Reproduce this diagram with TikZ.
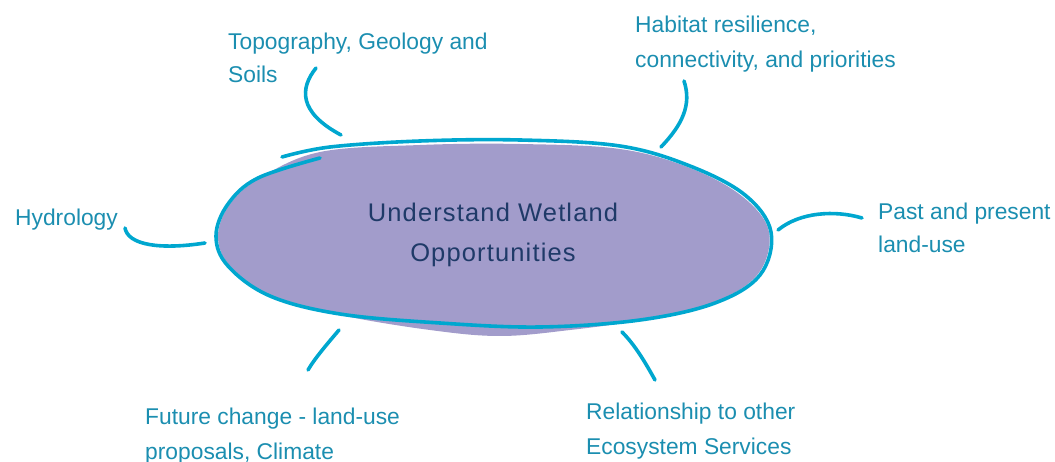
\documentclass[tikz,border=0pt]{standalone}
\usepackage{fontspec}
\setmainfont{Liberation Sans}
\newfontfamily\ctrfont[LetterSpace=4.5]{Liberation Sans}
\definecolor{linecol}{HTML}{00A7CF}
\definecolor{labcol}{HTML}{1B8EB0}
\definecolor{ctrcol}{HTML}{1F3A68}
\definecolor{blobcol}{HTML}{A29CCB}
\tikzset{
  lab/.style={anchor=base west, inner sep=0pt, text=labcol, font=\fontsize{22.8}{27}\selectfont},
  ctr/.style={anchor=base, inner sep=0pt, text=ctrcol, font=\ctrfont\fontsize{25.5}{30}\selectfont},
  conn/.style={draw=linecol, line width=3.6pt, line cap=round, line join=round},
}
\begin{document}
\begin{tikzpicture}[x=1pt,y=-1pt]
\useasboundingbox (0,0) rectangle (1055,462);
% blob fill
\fill[blobcol] plot[smooth cycle, tension=0.6] coordinates {
 (320,152) (420,145) (520,144) (620,149) (690,168) (743,197) (769,232)
 (758,274) (714,302) (640,320) (570,330) (500,336) (430,330) (340,315) (272,296) (230,266)
 (218,236) (230,204) (260,178)};
% blob outline
\draw[conn] plot[smooth, tension=0.6] coordinates {
 (282,157) (330,147) (420,141) (520,140) (620,146) (690,166) (745,195) (771,232)
 (760,275) (715,303) (640,320) (540,327) (440,323) (340,314) (270,296) (228,266)
 (216,236) (228,204) (258,178) (320,158)};
% centre text
\node[ctr] (c1) at (493,222) {Understand Wetland};
\node[ctr] (c2) at (493,262) {Opportunities};
% labels
\node[lab] (t1) at (228,50) {Topography, Geology and};
\node[lab] (t2) at (228,83) {Soils};
\node[lab] (h1) at (635,33) {Habitat resilience,};
\node[lab] (h2) at (635,68) {connectivity, and priorities};
\node[lab] (y1) at (15,226) {Hydrology};
\node[lab] (p1) at (878,220) {Past and present};
\node[lab] (p2) at (878,253) {land-use};
\node[lab] (f1) at (145,424) {Future change - land-use};
\node[lab] (f2) at (145,459) {proposals, Climate};
\node[lab] (r1) at (586,419) {Relationship to other};
\node[lab] (r2) at (586,454) {Ecosystem Services};
% connector endpoints
\coordinate (ta) at (316,68);  \coordinate (tb) at (341,135);
\coordinate (ha) at (684,81);  \coordinate (hb) at (661,147);
\coordinate (ya) at (125,228); \coordinate (yb) at (205,243);
\coordinate (pa) at (862,218); \coordinate (pb) at (778,230);
\coordinate (fa) at (308,370); \coordinate (fb) at (339,330);
\coordinate (ra) at (655,380); \coordinate (rb) at (622,332);
% connectors
\draw[conn] (ta) .. controls (300,88) and (298,112) .. (tb);
\draw[conn] (ha) .. controls (692,105) and (682,125) .. (hb);
\draw[conn] (ya) .. controls (128,245) and (160,250) .. (yb);
\draw[conn] (pa) .. controls (835,210) and (800,212) .. (pb);
\draw[conn] (fa) .. controls (315,358) and (328,343) .. (fb);
\draw[conn] (ra) .. controls (645,362) and (635,345) .. (rb);
\end{tikzpicture}
\end{document}
